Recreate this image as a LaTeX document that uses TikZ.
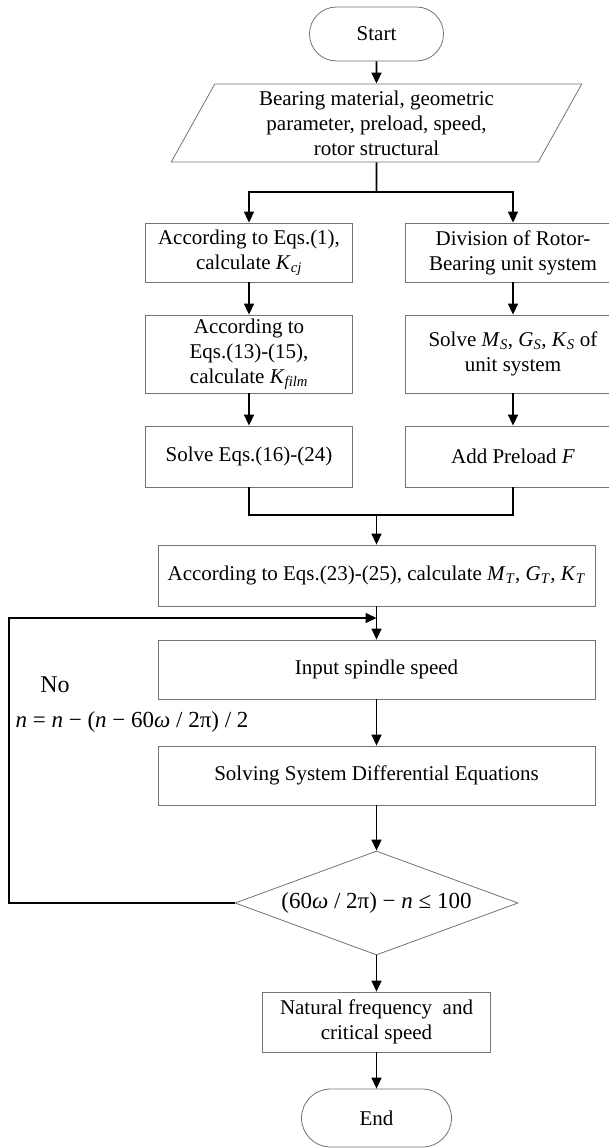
\documentclass[tikz,border=0pt]{standalone}
\usepackage{fontspec}
\setmainfont{Liberation Serif}
\usetikzlibrary{shapes.geometric,shapes.misc,arrows.meta}
\newcommand{\symb}[2]{\textit{#1}\textsubscript{\textit{#2}}}

\begin{document}
\begin{tikzpicture}[x=1pt, y=-1pt, every node/.style={font=\fontsize{21}{25}\selectfont, align=center, inner sep=0pt}, box/.style={rectangle, draw=black!55, line width=0.8pt}, term/.style={rounded rectangle, draw=black!55, line width=0.8pt}, line/.style={line width=1.6pt}, arr/.style={line, -{Triangle[length=11pt,width=10pt]}}]
		\useasboundingbox (0,0) rectangle (609,1148);
		\node[term, minimum width=134pt, minimum height=54pt](start) at (376.5,34){Start};
		\node[trapezium, draw=black!55, line width=0.8pt, trapezium left angle=64, trapezium right angle=116, trapezium stretches=true, minimum width=412pt, minimum height=78pt](data) at (376.5,123){Bearing material, geometric\\parameter, preload, speed,\\rotor structural};
		% two branches
		\node[box, minimum width=207pt, minimum height=59pt](kcj) at (249,252.5){According to Eqs.(1),\\calculate \symb{K}{cj}};
		\node[box, minimum width=207pt, minimum height=78pt](kfilm) at (249,354){According to\\Eqs.(13)-(15),\\calculate \symb{K}{film}};
		\node[box, minimum width=207pt, minimum height=61pt](eqs) at (249,456.5){Solve Eqs.(16)-(24)};
		\node[box, minimum width=216pt, minimum height=59pt](divide) at (513,252.5){Division of Rotor-\\Bearing unit system};
		\node[box, minimum width=216pt, minimum height=78pt](mgk) at (513,354){Solve \symb{M}{S}, \symb{G}{S}, \symb{K}{S} of\\unit system};
		\node[box, minimum width=216pt, minimum height=61pt](preload) at (513,456.5){Add Preload \textit{F}};
		% main column
		\node[box, minimum width=437pt, minimum height=61pt](total) at (376.5,575.5){According to Eqs.(23)-(25), calculate \symb{M}{T}, \symb{G}{T}, \symb{K}{T}};
		\node[box, minimum width=437pt, minimum height=59pt](speed) at (376.5,669.5){Input spindle speed};
		\node[box, minimum width=437pt, minimum height=59pt](solving) at (376.5,775.5){Solving System Differential Equations};
		\node[diamond, draw=black!55, line width=0.8pt, aspect=2.7, minimum width=283pt, minimum height=104pt, font=\fontsize{23}{27}\selectfont](check) at (376.5,903){(60\textit{ω} / 2π) − \textit{n} ≤ 100};
		\node[box, minimum width=228pt, minimum height=60pt](result) at (376.5,1022){Natural frequency\ \ and\\critical speed};
		\node[term, minimum width=150pt, minimum height=58pt](stop) at (376.5,1118){End};
		\node[font=\fontsize{24}{28}\selectfont](no) at (55,685){No};
		\node[font=\fontsize{23}{27}\selectfont](update) at (132,722){\textit{n} = \textit{n} − (\textit{n} − 60\textit{ω} / 2π) / 2};
		\coordinate(fork) at (376.5,192);
		\coordinate(merge) at (376.5,515);
		\coordinate(join) at (376.5,618);
		\coordinate(corner) at (9,618);
		\draw[arr] (start) -- (data);
		\draw[line] (data.south) -- (fork);
		\draw[arr] (fork) -| (kcj.north);
		\draw[arr] (fork) -| (divide.north);
		\draw[arr] (kcj) -- (kfilm);
		\draw[arr] (kfilm) -- (eqs);
		\draw[arr] (divide) -- (mgk);
		\draw[arr] (mgk) -- (preload);
		\draw[line] (eqs.south) |- (merge) -| (preload.south);
		\draw[arr] (merge) -- (total);
		\draw[arr] (total) -- (speed);
		\draw[arr] (speed) -- (solving);
		\draw[arr] (solving) -- (check);
		\draw[arr] (check) -- (result);
		\draw[arr] (result) -- (stop);
		\draw[arr] (check.west) -| (corner) -- (join);
	\end{tikzpicture}
\end{document}
